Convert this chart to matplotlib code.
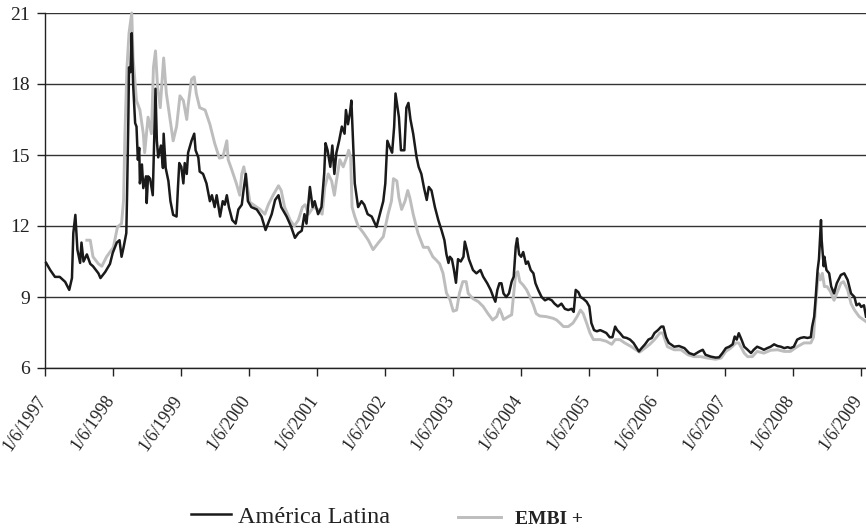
import numpy as np
import pandas as pd
import matplotlib
matplotlib.use('Agg')
import matplotlib.pyplot as plt
import matplotlib.transforms as mtransforms

plt.rcParams['font.family'] = ['Liberation Serif', 'DejaVu Serif']

# Series, time as decimal years
latam_t = [1997.43, 1997.49, 1997.56, 1997.63, 1997.71, 1997.77, 1997.81, 1997.83, 1997.86, 1997.89,
           1997.93, 1997.95, 1997.98, 1998.03, 1998.08, 1998.12, 1998.20, 1998.23, 1998.30, 1998.37,
           1998.41, 1998.47, 1998.51, 1998.54, 1998.57, 1998.61, 1998.62, 1998.64, 1998.65, 1998.67,
           1998.69, 1998.71, 1998.74, 1998.76, 1998.78, 1998.80, 1998.81, 1998.84, 1998.86, 1998.90,
           1998.91, 1998.93, 1998.96, 1999.00, 1999.02, 1999.04, 1999.06, 1999.08, 1999.12, 1999.15,
           1999.16, 1999.19, 1999.23, 1999.26, 1999.30, 1999.35, 1999.37, 1999.39, 1999.42, 1999.45,
           1999.47, 1999.50, 1999.52, 1999.57, 1999.61, 1999.63, 1999.67, 1999.69, 1999.74, 1999.79,
           1999.84, 1999.87, 1999.91, 1999.94, 1999.99, 2000.03, 2000.06, 2000.09, 2000.12, 2000.17,
           2000.22, 2000.26, 2000.31, 2000.34, 2000.37, 2000.40, 2000.45, 2000.53, 2000.60, 2000.66,
           2000.71, 2000.75, 2000.80, 2000.85, 2000.89, 2000.97, 2001.03, 2001.09, 2001.14, 2001.19,
           2001.23, 2001.26, 2001.31, 2001.35, 2001.38, 2001.43, 2001.48, 2001.52, 2001.54, 2001.57,
           2001.61, 2001.64, 2001.67, 2001.70, 2001.74, 2001.78, 2001.82, 2001.84, 2001.87, 2001.90,
           2001.92, 2001.95, 2001.97, 2002.00, 2002.02, 2002.07, 2002.11, 2002.16, 2002.22, 2002.29,
           2002.34, 2002.39, 2002.42, 2002.45, 2002.49, 2002.52, 2002.55, 2002.57, 2002.60, 2002.62,
           2002.65, 2002.70, 2002.73, 2002.76, 2002.79, 2002.83, 2002.88, 2002.91, 2002.95, 2002.99,
           2003.03, 2003.06, 2003.10, 2003.15, 2003.20, 2003.25, 2003.29, 2003.32, 2003.35, 2003.37,
           2003.40, 2003.43, 2003.46, 2003.49, 2003.53, 2003.57, 2003.59, 2003.62, 2003.65, 2003.71,
           2003.76, 2003.82, 2003.86, 2003.92, 2003.97, 2004.01, 2004.04, 2004.07, 2004.10, 2004.13,
           2004.16, 2004.20, 2004.24, 2004.28, 2004.31, 2004.34, 2004.36, 2004.39, 2004.42, 2004.45,
           2004.49, 2004.52, 2004.56, 2004.60, 2004.63, 2004.67, 2004.72, 2004.77, 2004.82, 2004.87,
           2004.91, 2004.96, 2005.01, 2005.06, 2005.11, 2005.16, 2005.19, 2005.22, 2005.26, 2005.29,
           2005.33, 2005.38, 2005.42, 2005.45, 2005.49, 2005.53, 2005.58, 2005.62, 2005.67, 2005.72,
           2005.76, 2005.80, 2005.83, 2005.87, 2005.92, 2005.97, 2006.02, 2006.07, 2006.12, 2006.15,
           2006.19, 2006.24, 2006.29, 2006.34, 2006.38, 2006.43, 2006.48, 2006.51, 2006.55, 2006.59,
           2006.67, 2006.74, 2006.82, 2006.89, 2006.96, 2007.04, 2007.09, 2007.13, 2007.21, 2007.28,
           2007.33, 2007.38, 2007.43, 2007.48, 2007.53, 2007.56, 2007.59, 2007.62, 2007.66, 2007.70,
           2007.75, 2007.80, 2007.84, 2007.89, 2007.94, 2007.99, 2008.04, 2008.09, 2008.14, 2008.19,
           2008.24, 2008.29, 2008.34, 2008.38, 2008.43, 2008.48, 2008.53, 2008.58, 2008.63, 2008.68,
           2008.70, 2008.73, 2008.75, 2008.78, 2008.80, 2008.83, 2008.84, 2008.87, 2008.88, 2008.91,
           2008.95, 2008.98, 2009.02, 2009.06, 2009.12, 2009.17, 2009.22, 2009.27, 2009.32, 2009.35,
           2009.39, 2009.42, 2009.46, 2009.49]
latam_v = [10.44, 10.14, 9.85, 9.85, 9.64, 9.3, 9.8, 11.7, 12.47, 11.0,
           10.44, 11.3, 10.5, 10.8, 10.4, 10.3, 10.0, 9.8, 10.06, 10.4,
           10.86, 11.3, 11.4, 10.7, 11.1, 11.7, 13.1, 16.5, 18.7, 18.5,
           20.15, 18.0, 16.35, 16.2, 14.8, 15.3, 13.8, 14.6, 13.6, 14.1,
           12.97, 14.1, 14.0, 13.3, 15.6, 17.8, 15.6, 14.9, 15.4, 14.45,
           15.9, 14.45, 13.9, 13.05, 12.47, 12.4, 13.6, 14.66, 14.5, 13.8,
           14.66, 14.2, 15.1, 15.6, 15.9, 15.2, 14.9, 14.3, 14.2, 13.8,
           13.05, 13.3, 12.8, 13.3, 12.4, 13.05, 12.9, 13.3, 12.8, 12.25,
           12.1, 12.7, 12.9, 13.6, 14.2, 13.05, 12.8, 12.7, 12.4, 11.83,
           12.2, 12.5, 13.1, 13.3, 12.8, 12.4, 12.0, 11.5, 11.7, 11.8,
           12.5, 12.1, 13.65, 12.8, 13.05, 12.5, 12.8, 14.2, 15.5, 15.2,
           14.5, 15.4, 14.2, 15.1, 15.6, 16.2, 15.9, 16.9, 16.3, 16.8,
           17.3, 15.2, 13.8, 13.2, 12.8, 13.05, 12.9, 12.5, 12.4, 11.96,
           12.5, 13.05, 13.8, 15.6, 15.3, 15.1, 16.2, 17.6, 17.0, 16.6,
           15.2, 15.2, 17.0, 17.2, 16.5, 15.9, 14.9, 14.5, 14.2, 13.6,
           13.1, 13.65, 13.5, 12.8, 12.25, 11.8, 11.4, 10.8, 10.44, 10.7,
           10.6, 10.15, 9.6, 10.6, 10.5, 10.7, 11.34, 11.0, 10.6, 10.14,
           10.0, 10.14, 9.86, 9.58, 9.3, 9.0, 8.8, 9.3, 9.58, 9.58,
           9.15, 9.0, 9.15, 9.65, 9.86, 11.13, 11.48, 10.8, 10.7, 10.9,
           10.4, 10.5, 10.14, 10.0, 9.58, 9.3, 9.0, 8.86, 8.93, 8.86,
           8.72, 8.6, 8.72, 8.5, 8.45, 8.5, 8.37, 9.3, 9.2, 9.0,
           8.93, 8.8, 8.6, 7.9, 7.6, 7.55, 7.6, 7.55, 7.48, 7.3,
           7.3, 7.75, 7.6, 7.48, 7.3, 7.27, 7.2, 7.06, 6.84, 6.7,
           6.84, 7.0, 7.2, 7.27, 7.48, 7.6, 7.75, 7.75, 7.3, 7.06,
           6.9, 6.93, 6.84, 6.63, 6.56, 6.7, 6.77, 6.56, 6.48, 6.44,
           6.45, 6.63, 6.84, 6.9, 7.0, 7.33, 7.2, 7.47, 7.2, 6.9,
           6.77, 6.63, 6.77, 6.9, 6.84, 6.77, 6.84, 6.9, 7.0, 6.93,
           6.9, 6.84, 6.88, 6.84, 6.9, 7.2, 7.27, 7.3, 7.27, 7.3,
           7.75, 8.17, 8.9, 10.14, 10.6, 12.25, 11.4, 10.3, 10.7, 10.14,
           10.0, 9.44, 9.15, 9.58, 9.93, 10.0, 9.72, 9.15, 9.0, 8.65,
           8.72, 8.58, 8.65, 8.17]

embi_t = [1998.03, 1998.08, 1998.12, 1998.20, 1998.25, 1998.32, 1998.42, 1998.48, 1998.54, 1998.57,
          1998.59, 1998.62, 1998.65, 1998.69, 1998.71, 1998.76, 1998.81, 1998.86, 1998.88, 1998.93,
          1998.98, 1999.01, 1999.04, 1999.07, 1999.11, 1999.16, 1999.20, 1999.25, 1999.30, 1999.35,
          1999.40, 1999.45, 1999.50, 1999.52, 1999.57, 1999.61, 1999.64, 1999.69, 1999.77, 1999.84,
          1999.91, 1999.98, 2000.03, 2000.09, 2000.11, 2000.16, 2000.23, 2000.28, 2000.31, 2000.34,
          2000.38, 2000.43, 2000.48, 2000.58, 2000.65, 2000.70, 2000.77, 2000.85, 2000.89, 2000.94,
          2001.02, 2001.08, 2001.14, 2001.20, 2001.24, 2001.29, 2001.36, 2001.43, 2001.49, 2001.53,
          2001.58, 2001.63, 2001.67, 2001.70, 2001.75, 2001.80, 2001.85, 2001.88, 2001.91, 2001.93,
          2001.97, 2002.02, 2002.10, 2002.17, 2002.24, 2002.32, 2002.39, 2002.46, 2002.51, 2002.54,
          2002.59, 2002.62, 2002.66, 2002.71, 2002.75, 2002.78, 2002.83, 2002.90, 2002.98, 2003.05,
          2003.12, 2003.17, 2003.22, 2003.27, 2003.32, 2003.37, 2003.42, 2003.47, 2003.51, 2003.56,
          2003.61, 2003.64, 2003.71, 2003.79, 2003.86, 2003.93, 2004.00, 2004.06, 2004.10, 2004.13,
          2004.16, 2004.23, 2004.28, 2004.31, 2004.34, 2004.37, 2004.40, 2004.45, 2004.50, 2004.55,
          2004.60, 2004.64, 2004.69, 2004.79, 2004.89, 2004.94, 2004.99, 2005.04, 2005.11, 2005.18,
          2005.24, 2005.29, 2005.33, 2005.38, 2005.43, 2005.48, 2005.58, 2005.67, 2005.75, 2005.80,
          2005.87, 2005.94, 2006.04, 2006.12, 2006.16, 2006.24, 2006.31, 2006.38, 2006.46, 2006.50,
          2006.57, 2006.67, 2006.77, 2006.87, 2006.96, 2007.06, 2007.16, 2007.28, 2007.36, 2007.43,
          2007.50, 2007.58, 2007.62, 2007.70, 2007.75, 2007.82, 2007.89, 2007.99, 2008.09, 2008.19,
          2008.29, 2008.38, 2008.48, 2008.58, 2008.68, 2008.72, 2008.75, 2008.79, 2008.82, 2008.85,
          2008.88, 2008.92, 2008.97, 2009.02, 2009.06, 2009.12, 2009.16, 2009.22, 2009.27, 2009.32,
          2009.39, 2009.49]
embi_v = [11.4, 11.4, 10.7, 10.4, 10.3, 10.7, 11.1, 11.96, 12.1, 13.1,
          15.9, 18.7, 20.15, 21.0, 19.1, 17.3, 16.9, 15.9, 15.1, 16.6,
          15.9, 18.7, 19.4, 17.9, 17.0, 19.1, 17.6, 16.6, 15.6, 16.2,
          17.5, 17.3, 16.5, 17.1, 18.2, 18.3, 17.6, 17.0, 16.9, 16.3,
          15.5, 14.87, 14.9, 15.6, 14.8, 14.4, 13.8, 13.3, 14.2, 14.5,
          13.9, 13.0, 12.9, 12.7, 12.5, 12.9, 13.3, 13.7, 13.5, 12.8,
          12.25, 12.0, 12.25, 12.8, 12.9, 12.5, 12.8, 12.7, 12.5, 13.65,
          14.2, 13.9, 13.3, 13.9, 14.8, 14.5, 14.9, 15.2, 14.9, 12.8,
          12.4, 12.0, 11.7, 11.4, 11.0, 11.3, 11.55, 12.5, 13.05, 14.0,
          13.9, 13.2, 12.7, 13.05, 13.5, 13.2, 12.5, 11.7, 11.1, 11.1,
          10.7, 10.56, 10.4, 10.0, 9.17, 8.9, 8.4, 8.45, 9.15, 9.65,
          9.65, 9.15, 8.93, 8.8, 8.6, 8.3, 8.03, 8.17, 8.5, 8.3,
          8.05, 8.17, 8.25, 9.15, 10.0, 10.07, 9.65, 9.5, 9.3, 9.0,
          8.65, 8.3, 8.2, 8.17, 8.1, 8.03, 7.9, 7.75, 7.75, 7.9,
          8.17, 8.45, 8.3, 7.9, 7.48, 7.2, 7.2, 7.13, 7.0, 7.2,
          7.2, 7.06, 6.9, 6.75, 6.67, 6.84, 7.0, 7.2, 7.48, 7.48,
          6.9, 6.77, 6.77, 6.56, 6.48, 6.48, 6.42, 6.37, 6.42, 6.7,
          6.84, 7.06, 7.06, 6.63, 6.48, 6.48, 6.7, 6.63, 6.75, 6.77,
          6.7, 6.7, 6.9, 7.06, 7.06, 7.3, 8.6, 10.0, 9.72, 10.0,
          9.44, 9.44, 9.22, 8.86, 9.15, 9.58, 9.65, 9.3, 8.72, 8.45,
          8.17, 7.96]

tick_years = list(range(1997, 2010))
y_ticks = [6, 9, 12, 15, 18, 21]


def to_dates(years):
    years = np.asarray(years, dtype=float)
    whole = np.floor(years).astype(int)
    start = pd.to_datetime([f'{y}-01-01' for y in whole])
    return start + pd.to_timedelta((years - whole) * 365.25, unit='D')


fig = plt.figure(figsize=(8.66, 5.28), dpi=100)
ax = fig.add_axes([45 / 866, 1 - 368 / 528, 821 / 866, 355 / 528])

gray_line, = ax.plot(to_dates(embi_t), embi_v, color='#bdbdbd', linewidth=2.1,
                     clip_on=False, zorder=3)
black_line, = ax.plot(to_dates(latam_t), latam_v, color='#1a1a1a', linewidth=1.8,
                      clip_on=False, zorder=4)

ax.set_ylim(6, 21)
ax.set_yticks(y_ticks)
ax.set_xlim(pd.Timestamp('1997-06-01'), to_dates([2009.49])[0])
ax.set_xticks(pd.to_datetime([f'{y}-06-01' for y in tick_years]))

ax.grid(axis='y', color='#333333', linewidth=1.0)
ax.set_axisbelow(True)
for side in ['top', 'right']:
    ax.spines[side].set_visible(False)
for side in ['left', 'bottom']:
    ax.spines[side].set_color('#222222')
    ax.spines[side].set_linewidth(1.0)
ax.tick_params(axis='both', direction='out', length=6, width=1.0, color='#222222',
               labelcolor='#222222')
ax.tick_params(axis='y', pad=5, labelsize=14)
ax.tick_params(axis='x', pad=15)

ax.set_xticklabels([f'1/6/{y}' for y in tick_years], rotation=55, ha='right',
                   va='center', rotation_mode='anchor', fontsize=12.8)
# nudge the slanted labels slightly left (after tick_params, which resets transforms)
shift = mtransforms.ScaledTranslation(-2 / 100, 0, fig.dpi_scale_trans)
for lbl in ax.get_xticklabels():
    lbl.set_transform(lbl.get_transform() + shift)

# two legend entries placed separately, as in the original layout
leg1 = fig.legend([black_line], ['América Latina'], loc='lower left',
                  bbox_to_anchor=(191 / 866, 0.0), frameon=False, fontsize=17.5,
                  handlelength=1.65, handletextpad=0.3, borderpad=0.0, borderaxespad=0,
                  labelcolor='#222222')
leg2 = fig.legend([gray_line], ['EMBI +'], loc='lower left',
                  bbox_to_anchor=(458 / 866, 0.0), frameon=False,
                  prop={'size': 14, 'weight': 'bold'},
                  handlelength=2.2, handletextpad=0.75, borderpad=0.0, borderaxespad=0,
                  labelcolor='#222222')

fig.savefig('out.png', dpi=100)
